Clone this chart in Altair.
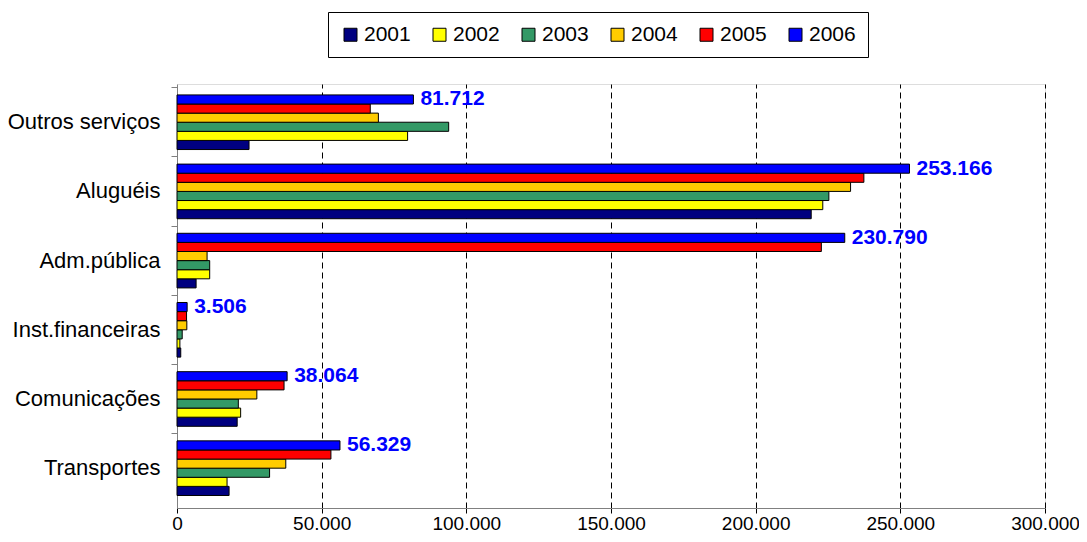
import altair as alt
import pandas as pd

categories = ["Outros serviços", "Aluguéis", "Adm.pública", "Inst.financeiras", "Comunicações", "Transportes"]
years = ["2001", "2002", "2003", "2004", "2005", "2006"]
colors = ["#000080", "#FFFF00", "#339966", "#FFCC00", "#FF0000", "#0000FF"]

v2001 = [24900, 219200, 6600, 1300, 20800, 18000]
v2002 = [79700, 223200, 11300, 1000, 22000, 17300]
v2003 = [93900, 225300, 11300, 1800, 21200, 32000]
v2004 = [69600, 232800, 10400, 3400, 27600, 37600]
v2005 = [66800, 237400, 222700, 3300, 37000, 53200]
v2006 = [81712, 253166, 230790, 3506, 38064, 56329]

series = [v2001, v2002, v2003, v2004, v2005, v2006]
rows = []
for yr, vals in zip(years, series):
    for cat, v in zip(categories, vals):
        rows.append({"cat": cat, "year": yr, "value": v,
                     "label": f"{v:,}".replace(",", ".")})
df = pd.DataFrame(rows)

FONT = "Liberation Sans"

y_scale = alt.Scale(paddingInner=0, paddingOuter=0.064, align=0.41)
y_enc = alt.Y("cat:N", sort=categories, title=None, scale=y_scale,
              axis=alt.Axis(labelFontSize=22, labelFont=FONT, labelColor="black",
                            tickSize=6, tickColor="#808080", domainColor="#808080",
                            bandPosition=0, labelPadding=11, labelBound=False))
yoff = alt.YOffset("year:N", sort="descending",
                   scale=alt.Scale(paddingInner=0, paddingOuter=0.8))
x_enc = alt.X("value:Q", title=None,
              scale=alt.Scale(domain=[0, 300000], nice=False),
              axis=alt.Axis(values=[0, 50000, 100000, 150000, 200000, 250000, 300000],
                            labelExpr="replace(format(datum.value, ','), ',', '.')",
                            labelFontSize=19, labelFont=FONT, labelColor="black",
                            tickSize=5, tickColor="black", domainColor="#808080",
                            labelPadding=1, labelFlush=False,
                            grid=True, gridColor="black", gridDash=[6, 4], gridWidth=1,
                            gridOpacity=alt.ExprRef("datum.value == 0 ? 0 : 1")))

bars = alt.Chart(df).mark_bar(stroke="black", strokeWidth=1).encode(
    y=y_enc,
    yOffset=yoff,
    x=x_enc,
    color=alt.Color("year:N", scale=alt.Scale(domain=years, range=colors),
                    legend=alt.Legend(orient="none", legendX=151, legendY=-72,
                                      direction="horizontal", columns=6, title=None,
                                      symbolType="square", symbolSize=169,
                                      symbolStrokeColor="black", symbolStrokeWidth=1,
                                      labelFontSize=21, labelFont=FONT, labelColor="black",
                                      labelOffset=3, columnPadding=18,
                                      strokeColor="black", padding=12)),
)

labels = alt.Chart(df).transform_filter("datum.year == '2006'").mark_text(
    align="left", baseline="middle", dx=7, fontSize=21, fontWeight="bold",
    font=FONT, color="#0000FF"
).encode(
    y=alt.Y("cat:N", sort=categories, scale=y_scale),
    yOffset=yoff,
    x=alt.X("value:Q"),
    text="label:N",
)

chart = alt.layer(bars, labels).properties(
    width=868, height=424,
    autosize=alt.AutoSizeParams(type="none"),
    padding={"left": 169, "top": 76, "right": 34, "bottom": 26},
).configure_view(stroke=None).configure(background="white")

chart.save("out.html", embed_options={"renderer": "svg", "actions": False})
